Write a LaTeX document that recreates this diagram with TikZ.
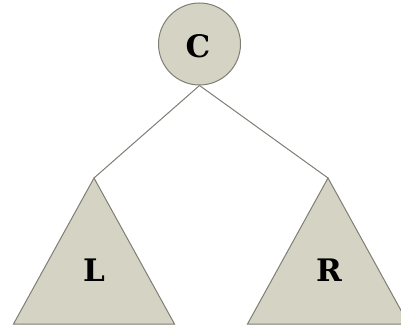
\documentclass[tikz,border=0pt]{standalone}
\usepackage{fontspec}
\newfontfamily\lblfont{DejaVu Serif}
\usetikzlibrary{positioning}
\definecolor{nodefill}{HTML}{D5D3C4}
\definecolor{outline}{HTML}{7E7E74}

\begin{document}
\begin{tikzpicture}[x=1pt, y=-1pt,
      root/.style={circle, draw=outline, line width=1pt, fill=nodefill,
                   minimum size=82pt, inner sep=0pt},
      tri/.style={draw=outline, line width=1pt, fill=nodefill, line join=miter},
      lbl/.style={font=\lblfont\bfseries\fontsize{31}{31}\selectfont, inner sep=0pt},
      edge/.style={draw=outline, line width=1pt}]
    \useasboundingbox (0,0) rectangle (401,326);
    \node[root] (c) at (199.5,44) {};
    \node[lbl] (cl) at (198,46) {C};
    \coordinate (la) at (94,178);
    \coordinate (ra) at (328,178);
    \filldraw[tri] (la) -- (13.5,324) -- (174.5,324) -- cycle;
    \filldraw[tri] (ra) -- (247.5,324) -- (408.5,324) -- cycle;
    \node[lbl] (l) at (94,270) {L};
    \node[lbl] (r) at (329,270) {R};
    \draw[edge] (c.south) -- (la);
    \draw[edge] (c.south) -- (ra);
  \end{tikzpicture}
\end{document}
